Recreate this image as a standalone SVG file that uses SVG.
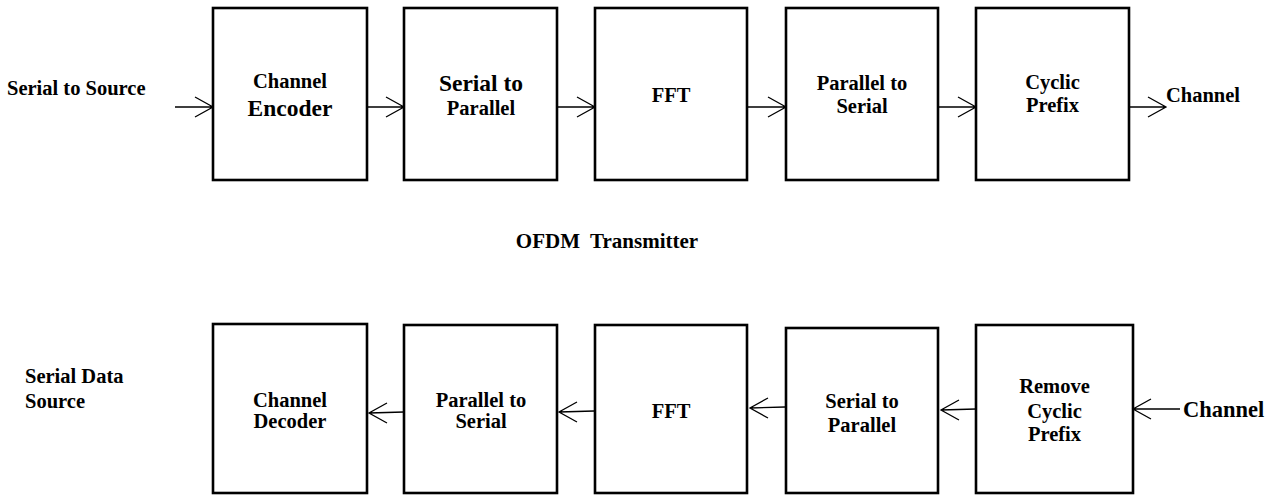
<svg xmlns="http://www.w3.org/2000/svg" width="1278" height="496" viewBox="0 0 1278 496">
<style>
.box{fill:#fff;stroke:#000;stroke-width:2.6}
.t{font-family:'Liberation Serif','Times New Roman',serif;font-weight:bold;font-size:20.5px;fill:#000;text-anchor:middle}
.l{text-anchor:start}
.big{font-size:23.5px}
.c{fill:none;stroke:#000;stroke-width:1.3}
</style>
<rect width="1278" height="496" fill="#fff"/>
<g font-family="Liberation Serif">
<g id="tx-source"><text class="t l" x="7" y="95">Serial to Source</text></g>
<g id="tx-encoder"><rect class="box" x="213" y="8" width="154" height="172"/><text class="t" x="290" y="88">Channel</text><text class="t big" x="290" y="116">Encoder</text></g>
<g id="tx-s2p"><rect class="box" x="404" y="8" width="153" height="172"/><text class="t big" x="481" y="91">Serial to</text><text class="t" x="481" y="115">Parallel</text></g>
<g id="tx-fft"><rect class="box" x="595" y="8" width="152" height="172"/><text class="t" x="671" y="102">FFT</text></g>
<g id="tx-p2s"><rect class="box" x="786" y="8" width="152" height="172"/><text class="t" x="862" y="90">Parallel to</text><text class="t" x="862" y="113">Serial</text></g>
<g id="tx-cp"><rect class="box" x="976" y="8" width="153" height="172"/><text class="t" x="1052.5" y="89">Cyclic</text><text class="t" x="1052.5" y="112">Prefix</text></g>
<g id="tx-channel"><text class="t l" x="1166" y="102">Channel</text></g>
<g id="title"><text class="t" x="607" y="248" style="font-size:21px" xml:space="preserve">OFDM  Transmitter</text></g>
<g id="rx-sink"><text class="t l" x="25" y="383">Serial Data</text><text class="t l" x="25" y="408">Source</text></g>
<g id="rx-decoder"><rect class="box" x="213" y="324" width="154" height="169"/><text class="t" x="290" y="407">Channel</text><text class="t" x="290" y="428">Decoder</text></g>
<g id="rx-p2s"><rect class="box" x="404" y="325" width="153" height="168"/><text class="t" x="481" y="407">Parallel to</text><text class="t" x="481" y="428">Serial</text></g>
<g id="rx-fft"><rect class="box" x="595" y="325" width="152" height="168"/><text class="t" x="671" y="418">FFT</text></g>
<g id="rx-s2p"><rect class="box" x="786" y="328" width="152" height="165"/><text class="t" x="862" y="408">Serial to</text><text class="t" x="862" y="432">Parallel</text></g>
<g id="rx-rcp"><rect class="box" x="976" y="325" width="157" height="168"/><text class="t" x="1054.5" y="393">Remove</text><text class="t" x="1054.5" y="418">Cyclic</text><text class="t" x="1054.5" y="441">Prefix</text></g>
<g id="rx-channel"><text class="t l" x="1183" y="417" style="font-size:22.5px">Channel</text></g>
</g>
<g id="connectors">
<path class="c" d="M175 107H213M195 97L213 107L195 117"/>
<path class="c" d="M367 107H404M386 97L404 107L386 117"/>
<path class="c" d="M558 107H595M577 97L595 107L577 117"/>
<path class="c" d="M747 107H786M768 97L786 107L768 117"/>
<path class="c" d="M938 107H976M958 97L976 107L958 117"/>
<path class="c" d="M1129 107H1166M1148 97L1166 107L1148 117"/>
<path class="c" d="M1180 409H1133M1151 399L1133 409L1151 419"/>
<path class="c" d="M976 409L941 410M959 400L941 410L959 420"/>
<path class="c" d="M785 407L750 408M768 398L750 408L768 418"/>
<path class="c" d="M594 411L559 412M577 402L559 412L577 422"/>
<path class="c" d="M404 412L369 413M387 403L369 413L387 423"/>
</g>
</svg>
